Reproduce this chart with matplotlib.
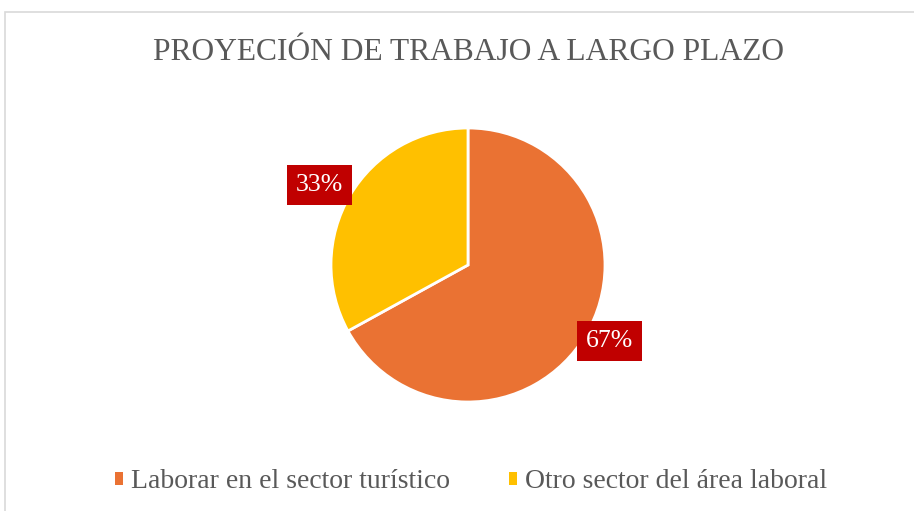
"""Pie chart: long-term work projection."""

import numpy as np
import matplotlib
matplotlib.use("Agg")
import matplotlib.pyplot as plt
from matplotlib.patches import Rectangle, Patch

categories = ["Laborar en el sector turístico", "Otro sector del área laboral"]
values = [67, 33]
colors = ["#EA7233", "#FFC000"]
title = "PROYECIÓN DE TRABAJO A LARGO PLAZO"

plt.rcParams["font.family"] = ["Liberation Serif", "DejaVu Serif"]

W, H = 914, 511
fig = plt.figure(figsize=(W / 100, H / 100), dpi=100)

# chart area border (cropped at right/bottom)
fig.patches.append(Rectangle((5 / W, -0.1), 1.2, 1.1 - 12 / H, transform=fig.transFigure,
                             fill=False, edgecolor="#D9D9D9", linewidth=1.2))

cx, cy, r = 468, 265, 137
ax = fig.add_axes([(cx - r) / W, (H - cy - r) / H, 2 * r / W, 2 * r / H])
wedges, texts, autotexts = ax.pie(
    values, colors=colors, startangle=90, counterclock=False,
    autopct="%1.0f%%", pctdistance=1.2,
    wedgeprops=dict(edgecolor="white", linewidth=2),
    textprops=dict(color="white", fontsize=18.5),
)
# label placement: slightly off the mid-angle, like the original layout
label_r = [1.175, 1.23]
for w, t, lr in zip(wedges, autotexts, label_r):
    ang = np.deg2rad((w.theta1 + w.theta2) / 2 + 2.3)
    t.set_position((lr * np.cos(ang), lr * np.sin(ang)))
    t.set_bbox(dict(facecolor="#C00000", edgecolor="none", pad=6.5))
ax.set_xlim(-1, 1)
ax.set_ylim(-1, 1)
ax.axis("off")

fig.text(cx / W, 1 - 52 / H, title, ha="center", va="center",
         fontsize=22.7, color="#595959")

handles = [Patch(facecolor=c, edgecolor="none") for c in colors]
fig.legend(handles, categories, loc="center", bbox_to_anchor=(471 / W, 1 - 482 / H),
           ncol=2, frameon=False, fontsize=20, labelcolor="#595959",
           handlelength=0.3, handleheight=0.3, handletextpad=0.3,
           columnspacing=2.1)

fig.savefig("out.png", dpi=100)
